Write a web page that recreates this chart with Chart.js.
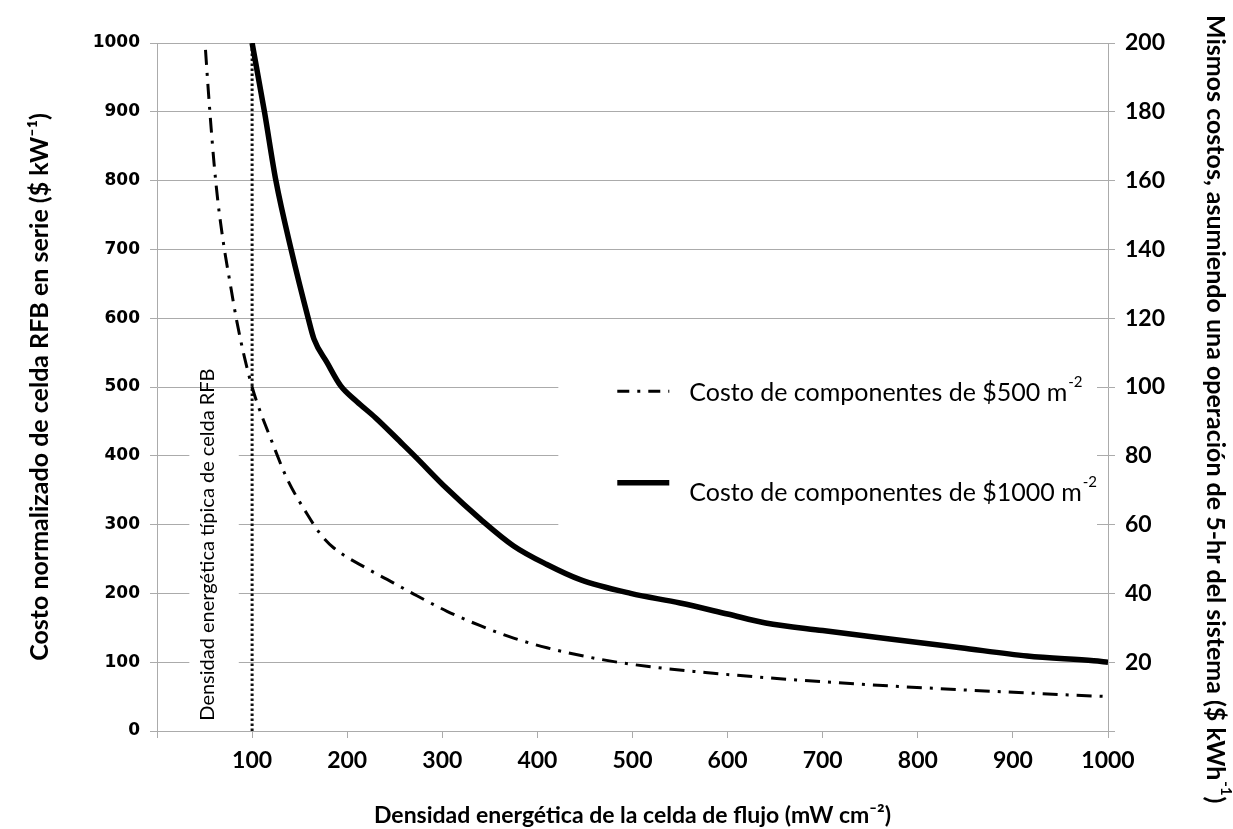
<!DOCTYPE html>
<html lang="es">
<head>
<meta charset="UTF-8">
<title>Costo normalizado de celda RFB</title>
<script src="https://cdn.jsdelivr.net/npm/chart.js@4.4.1/dist/chart.umd.min.js"></script>
<style>
    html, body { margin: 0; padding: 0; background: #fff; }
</style>
</head>
<body>
<canvas id="costChart" width="1233" height="829"></canvas>
<script>
    // values
    const densidad500 = [51, 54, 57, 60, 64, 70, 77, 84, 92, 100, 105, 121, 137, 158, 172, 186, 221, 249, 270, 305, 340, 375, 410, 463, 515, 585, 655, 740, 845, 950, 1000];
    const costo500 = [990, 930, 875, 825, 770, 708, 650, 595, 543, 500, 478, 420, 366, 315, 286, 266, 236, 215, 199, 174, 153, 135, 121, 105, 94, 84, 76, 68, 60, 53, 50];

    const densidad1000 = [100, 113, 125, 141, 159, 165, 179, 193, 210, 230, 256, 270, 305, 340, 375, 410, 445, 498, 550, 600, 640, 700, 775, 845, 915, 985, 1000];
    const costo1000 = [1000, 900, 800, 700, 600, 570, 535, 502, 479, 455, 420, 401, 352, 308, 269, 242, 220, 200, 186, 170, 157, 146, 133, 121, 109, 102, 100];

    const densidadTipica = 100;

    const xTicks = [0, 100, 200, 300, 400, 500, 600, 700, 800, 900, 1000];
    const yTicks = [0, 100, 200, 300, 400, 500, 600, 700, 800, 900, 1000];
    const y2Ticks = [0, 20, 40, 60, 80, 100, 120, 140, 160, 180, 200];

    const serieNames = ['Costo de componentes de $500 m', 'Costo de componentes de $1000 m'];
    const tipicaLabel = 'Densidad energética típica de celda RFB';
    const rightTitle = 'Mismos costos, asumiendo una operación de 5-hr del sistema ($ kWh';

    const toPoints = (xs, ys) => xs.map((x, i) => ({x: x, y: ys[i]}));

    const gridGray = '#ababab';
    const txtFont = 'Lato, "Open Sans", sans-serif';

    // draws "base" with a raised small superscript after it, returns end x
    function textWithSup(ctx, base, sup, x, y, size, weight) {
        ctx.font = weight + ' ' + size + 'px ' + txtFont;
        ctx.fillText(base, x, y);
        const w = ctx.measureText(base).width;
        ctx.font = weight + ' ' + Math.round(size * 0.6) + 'px ' + txtFont;
        ctx.fillText(sup, x + w + 1, y - size * 0.42);
        return x + w + 1 + ctx.measureText(sup).width;
    }

    const extrasPlugin = {
        id: 'extras',
        beforeDatasetsDraw(chart) {
            const ctx = chart.ctx;
            const xs = chart.scales.x, ys = chart.scales.y;
            const area = chart.chartArea;
            ctx.save();
            ctx.fillStyle = '#fff';
            // white box behind the legend
            ctx.fillRect(xs.getPixelForValue(422), ys.getPixelForValue(560), area.right - 11 - xs.getPixelForValue(422), ys.getPixelForValue(260) - ys.getPixelForValue(560));
            // white box behind the vertical note
            ctx.fillRect(xs.getPixelForValue(34), ys.getPixelForValue(480), xs.getPixelForValue(86) - xs.getPixelForValue(34), ys.getPixelForValue(4) - ys.getPixelForValue(480));
            // vertical note
            ctx.translate(xs.getPixelForValue(53), ys.getPixelForValue(15));
            ctx.rotate(-Math.PI / 2);
            ctx.fillStyle = '#000';
            ctx.font = '20px ' + txtFont;
            ctx.textBaseline = 'middle';
            ctx.textAlign = 'left';
            ctx.fillText(tipicaLabel, 0, 0);
            ctx.restore();
        },
        afterDraw(chart) {
            const ctx = chart.ctx;
            const xs = chart.scales.x, ys = chart.scales.y;
            ctx.save();
            ctx.fillStyle = '#000';
            ctx.strokeStyle = '#000';
            ctx.textBaseline = 'middle';
            ctx.textAlign = 'left';

            // legend
            const lx = xs.getPixelForValue(484);
            const ly1 = ys.getPixelForValue(494), ly2 = ys.getPixelForValue(361);
            const ty1 = ys.getPixelForValue(492), ty2 = ys.getPixelForValue(346);
            ctx.lineWidth = 3;
            ctx.setLineDash([12, 8, 3, 8]);
            ctx.beginPath(); ctx.moveTo(lx, ly1); ctx.lineTo(lx + 52, ly1); ctx.stroke();
            ctx.lineWidth = 5.5;
            ctx.setLineDash([]);
            ctx.beginPath(); ctx.moveTo(lx, ly2); ctx.lineTo(lx + 52, ly2); ctx.stroke();
            textWithSup(ctx, serieNames[0], '-2', lx + 72, ty1, 25, 'normal');
            textWithSup(ctx, serieNames[1], '-2', lx + 72, ty2, 25, 'normal');

            // right axis title, rotated clockwise
            ctx.translate(1215, 15);
            ctx.rotate(Math.PI / 2);
            const end = textWithSup(ctx, rightTitle, '-1', 0, 0, 25, 'bold');
            ctx.font = 'bold 25px ' + txtFont;
            ctx.fillText(')', end + 1, 0);
            ctx.restore();
        }
    };

    const ctx = document.getElementById('costChart').getContext('2d');
    const costChart = new Chart(ctx, {
        type: 'line',
        data: {
            datasets: [{
                label: serieNames[0] + '⁻²',
                data: toPoints(densidad500, costo500),
                borderColor: '#000',
                borderWidth: 3,
                borderDash: [15, 8, 3, 8],
                pointRadius: 0,
                cubicInterpolationMode: 'monotone'
            }, {
                label: serieNames[1] + '⁻²',
                data: toPoints(densidad1000, costo1000),
                borderColor: '#000',
                borderWidth: 5.5,
                pointRadius: 0,
                cubicInterpolationMode: 'monotone'
            }, {
                label: tipicaLabel,
                data: [{x: densidadTipica, y: yTicks[0]}, {x: densidadTipica, y: yTicks[yTicks.length - 1]}],
                borderColor: '#111',
                borderWidth: 3,
                borderDash: [2.5, 2.5],
                pointRadius: 0
            }]
        },
        options: {
            responsive: false,
            animation: false,
            devicePixelRatio: 1,
            layout: {padding: {top: 43, left: 0, right: 0, bottom: 0}},
            plugins: {
                legend: {display: false},
                tooltip: {enabled: false}
            },
            scales: {
                x: {
                    type: 'linear',
                    position: 'bottom',
                    min: xTicks[0],
                    max: xTicks[xTicks.length - 1],
                    afterBuildTicks: s => { s.ticks = xTicks.map(v => ({value: v})); },
                    afterFit: s => { s.height = 98; },
                    ticks: {
                        callback: v => v === 0 ? '' : String(v),
                        color: '#000',
                        font: {family: txtFont, size: 23, weight: 'bold'},
                        padding: 9,
                        maxRotation: 0
                    },
                    grid: {drawOnChartArea: false, drawTicks: true, tickLength: 7, color: gridGray},
                    border: {display: true, color: gridGray},
                    title: {
                        display: true,
                        text: 'Densidad energética de la celda de flujo (mW cm⁻²)',
                        color: '#000',
                        font: {family: txtFont, size: 23, weight: 'bold'},
                        padding: {top: 8, bottom: 0}
                    }
                },
                y: {
                    position: 'left',
                    min: yTicks[0],
                    max: yTicks[yTicks.length - 1],
                    afterBuildTicks: s => { s.ticks = yTicks.map(v => ({value: v})); },
                    afterFit: s => { s.width = 157; },
                    ticks: {
                        callback: v => String(v),
                        color: '#000',
                        font: {family: '"DejaVu Sans"', size: 17, weight: 'bold'},
                        padding: 10
                    },
                    grid: {color: gridGray, tickLength: 7},
                    border: {display: true, color: gridGray},
                    title: {
                        display: true,
                        text: 'Costo normalizado de celda RFB en serie ($ kW⁻¹)',
                        color: '#000',
                        font: {family: txtFont, size: 25, weight: 'bold'},
                        padding: {top: 25, bottom: 0}
                    }
                },
                y2: {
                    position: 'right',
                    min: y2Ticks[0],
                    max: y2Ticks[y2Ticks.length - 1],
                    afterBuildTicks: s => { s.ticks = y2Ticks.map(v => ({value: v})); },
                    afterFit: s => { s.width = 125; },
                    ticks: {
                        callback: v => v === 0 ? '' : String(v),
                        color: '#000',
                        font: {family: txtFont, size: 23, weight: 'bold'},
                        padding: 10
                    },
                    grid: {drawOnChartArea: false, drawTicks: true, tickLength: 7, color: gridGray},
                    border: {display: true, color: gridGray}
                }
            }
        },
        plugins: [extrasPlugin]
    });
</script>
</body>
</html>
